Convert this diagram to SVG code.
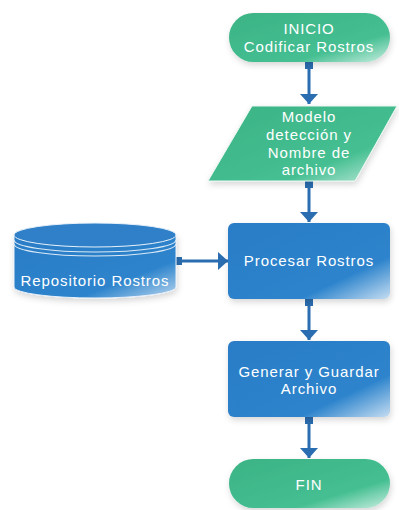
<svg xmlns="http://www.w3.org/2000/svg" width="399" height="510" viewBox="0 0 399 510">
  <style>
    .lbl { font-family: "Liberation Sans", Arial, sans-serif; font-size: 15px; fill: #ffffff; text-anchor: middle; letter-spacing: 0.9px; }
    .conn { stroke: #2a6db0; stroke-width: 3; fill: none; }
    .sq { fill: #2a6db0; }
  </style>
  <defs>
    <linearGradient id="green" x1="0" y1="0" x2="1" y2="1">
      <stop offset="0" stop-color="#3bb385"/>
      <stop offset="0.7" stop-color="#45bf92"/>
      <stop offset="1" stop-color="#c8eee0"/>
    </linearGradient>
    <linearGradient id="blue" x1="0" y1="0" x2="1" y2="1">
      <stop offset="0" stop-color="#2b7cc6"/>
      <stop offset="0.72" stop-color="#2d84cc"/>
      <stop offset="1" stop-color="#c5ddf2"/>
    </linearGradient>
    <linearGradient id="cyl" x1="0" y1="0" x2="1" y2="1">
      <stop offset="0" stop-color="#2b7cc6"/>
      <stop offset="0.7" stop-color="#2d84cc"/>
      <stop offset="1" stop-color="#b9d6ef"/>
    </linearGradient>
    <filter id="shadow" x="-10%" y="-10%" width="125%" height="135%">
      <feDropShadow dx="1" dy="3" stdDeviation="3" flood-color="#000000" flood-opacity="0.16"/>
    </filter>
    <marker id="arrow" viewBox="0 0 10 18" refX="10" refY="9" markerWidth="10" markerHeight="18" orient="auto" markerUnits="userSpaceOnUse">
      <path d="M0,0 L10,9 L0,18 Z" fill="#2a6db0"/>
    </marker>
  </defs>

  <!-- connectors -->
  <g id="connectors">
    <line class="conn" x1="309" y1="66" x2="309" y2="104" marker-end="url(#arrow)"/>
    <rect class="sq" x="305" y="62" width="8" height="7"/>
    <line class="conn" x1="309" y1="185" x2="309" y2="222" marker-end="url(#arrow)"/>
    <rect class="sq" x="305" y="181" width="8" height="7"/>
    <line class="conn" x1="178" y1="261" x2="228" y2="261" marker-end="url(#arrow)"/>
    <rect class="sq" x="174" y="257" width="8" height="8"/>
    <line class="conn" x1="309" y1="303" x2="309" y2="340" marker-end="url(#arrow)"/>
    <rect class="sq" x="305" y="299" width="8" height="7"/>
    <line class="conn" x1="309" y1="421" x2="309" y2="458" marker-end="url(#arrow)"/>
    <rect class="sq" x="305" y="417" width="8" height="7"/>
  </g>

  <!-- start terminal -->
  <g id="inicio">
    <rect x="229" y="13" width="161" height="49" rx="24.5" fill="url(#green)" filter="url(#shadow)"/>
    <text class="lbl" x="309" y="34">INICIO</text>
    <text class="lbl" x="309" y="52">Codificar Rostros</text>
  </g>

  <!-- input data -->
  <g id="modelo">
    <path d="M252,106 L397,106 L355,181 L208,181 Z" fill="url(#green)" stroke="#eaf7f1" stroke-width="1" stroke-linejoin="round" filter="url(#shadow)"/>
    <text class="lbl" x="309" y="122">Modelo</text>
    <text class="lbl" x="309" y="140">detección y</text>
    <text class="lbl" x="309" y="158">Nombre de</text>
    <text class="lbl" x="309" y="175">archivo</text>
  </g>

  <!-- stored data -->
  <g id="repositorio">
    <path d="M14,235 L14,287 A81,11 0 0 0 176,287 L176,235 Z" fill="url(#cyl)" stroke="#e8f1fa" stroke-width="1" filter="url(#shadow)"/>
    <ellipse cx="95" cy="235" rx="81" ry="12" fill="#2f80c8" stroke="#e8f1fa" stroke-width="1"/>
    <path d="M14,240 A81,12 0 0 0 176,240" fill="none" stroke="#dbe9f6" stroke-width="1.2"/>
    <path d="M14,244 A81,12 0 0 0 176,244" fill="none" stroke="#dbe9f6" stroke-width="1.2"/>
    <text class="lbl" x="95" y="286">Repositorio Rostros</text>
  </g>

  <!-- processing -->
  <g id="procesar">
    <rect x="228" y="223" width="162" height="76" rx="6" fill="url(#blue)" filter="url(#shadow)"/>
    <text class="lbl" x="309" y="266">Procesar Rostros</text>
  </g>

  <g id="generar">
    <rect x="228" y="341" width="162" height="76" rx="6" fill="url(#blue)" filter="url(#shadow)"/>
    <text class="lbl" x="309" y="377">Generar y Guardar</text>
    <text class="lbl" x="309" y="394">Archivo</text>
  </g>

  <!-- end terminal -->
  <g id="fin">
    <rect x="229" y="459" width="161" height="49" rx="24.5" fill="url(#green)" filter="url(#shadow)"/>
    <text class="lbl" x="309" y="490">FIN</text>
  </g>
</svg>
